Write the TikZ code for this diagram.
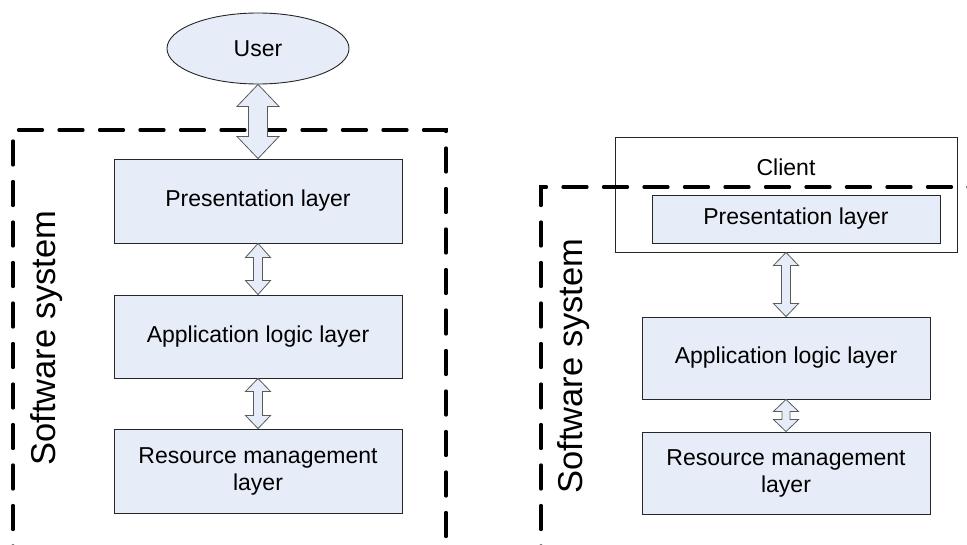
\documentclass[tikz,border=0pt]{standalone}
\usepackage{fontspec}
\setmainfont{Liberation Sans}
\usetikzlibrary{shapes.geometric,calc}
\definecolor{layerfill}{RGB}{231,237,248}
\definecolor{arrowline}{RGB}{90,90,90}
\tikzset{
  layerbox/.style={draw=black!85, line width=0.9pt, fill=layerfill, inner sep=0pt,
    font=\fontsize{23}{27}\selectfont, align=center},
  userball/.style={ellipse, draw=black!85, line width=0.9pt, fill=layerfill, inner sep=0pt,
    minimum width=182, minimum height=71, font=\fontsize{23}{27}\selectfont},
  clientbox/.style={draw=black!85, line width=0.9pt, fill=white, inner sep=0pt,
    minimum width=342, minimum height=115},
  lbl/.style={inner sep=0pt, font=\fontsize{23}{27}\selectfont},
  syslbl/.style={inner sep=0pt, rotate=90, font=\fontsize{34.5}{40}\selectfont},
  sysframe/.style={line width=3.3pt, line cap=round, dash pattern=on 24pt off 16.5pt},
  blockarrow/.style={draw=arrowline, line width=0.8pt, fill=layerfill, line join=miter},
}
% double-headed block arrow from the top node anchor #1 down to #2;
% #3 half shaft width, #4 half head width, #5 head length
\newcommand\twoway[5]{%
  \draw[blockarrow] let \p1=(#1), \p2=(#2) in
    (\x1,\y1) -- (\x1+#4pt,\y1-#5pt) -- (\x1+#3pt,\y1-#5pt) -- (\x1+#3pt,\y2+#5pt)
    -- (\x1+#4pt,\y2+#5pt) -- (\x1,\y2) -- (\x1-#4pt,\y2+#5pt) -- (\x1-#3pt,\y2+#5pt)
    -- (\x1-#3pt,\y1-#5pt) -- (\x1-#4pt,\y1-#5pt) -- cycle;}
\begin{document}
\begin{tikzpicture}[x=1pt,y=-1pt]
\useasboundingbox (0,0) rectangle (967,545);
\clip (0,0) rectangle (967,545);

% left: three-layer system with its user
\draw[sysframe] (13,570) -- (13,130) -- (446,130) -- (446,570);
\node[syslbl] (sysL) at (47,338) {Software system};
\node[userball] (user) at (258,48.5) {User};
\node[layerbox, minimum width=288, minimum height=84] (pres) at (258,201) {Presentation layer};
\node[layerbox, minimum width=288, minimum height=83] (app) at (258,336.5) {Application logic layer};
\node[layerbox, minimum width=288, minimum height=84] (res) at (258,471) {Resource management\\layer};
\twoway{user.south}{pres.north}{9.5}{21}{22}
\twoway{pres.south}{app.north}{4.5}{12.5}{14}
\twoway{app.south}{res.north}{4.5}{12.5}{13}

% right: presentation layer moved into the client
\node[clientbox] (client) at (786,194.5) {};
\node[lbl] (clientname) at (786,167) {Client};
\draw[sysframe] (541,570) -- (541,187) -- (1000,187);
\node[syslbl] (sysR) at (574,366) {Software system};
\node[layerbox, minimum width=288, minimum height=48] (presR) at (796,219) {Presentation layer};
\node[layerbox, minimum width=288, minimum height=82] (appR) at (786,358) {Application logic layer};
\node[layerbox, minimum width=288, minimum height=82] (resR) at (786,473) {Resource management\\layer};
\twoway{client.south}{appR.north}{4.5}{12.5}{13}
\twoway{appR.south}{resR.north}{4}{12.5}{12}
\end{tikzpicture}
\end{document}
